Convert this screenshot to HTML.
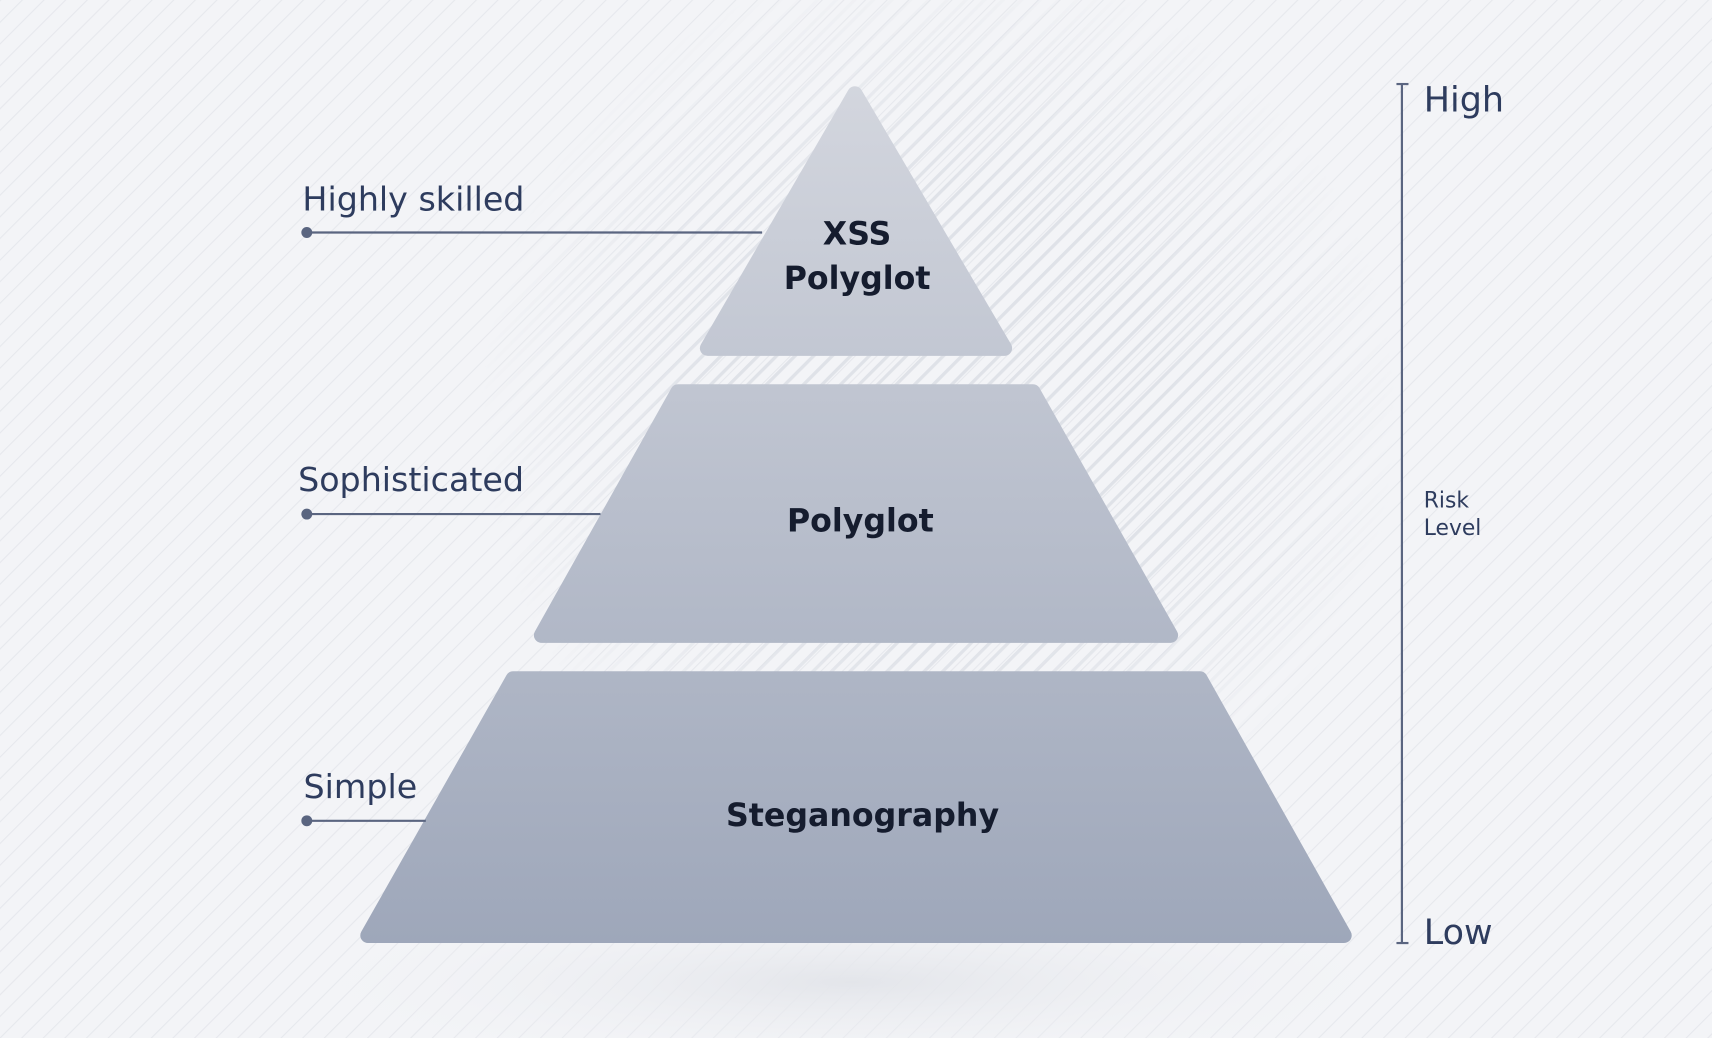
<!DOCTYPE html>
<html><head><meta charset="utf-8"><style>
html,body{margin:0;padding:0;background:#f2f3f6;}
svg{display:block}
</style></head><body>
<svg width="1712" height="1038" viewBox="0 0 1568 951" preserveAspectRatio="none" xmlns="http://www.w3.org/2000/svg">
<defs>
<linearGradient id="g" x1="0" y1="77" x2="0" y2="864" gradientUnits="userSpaceOnUse">
<stop offset="0" stop-color="#d3d6de"/><stop offset="1" stop-color="#9ea7ba"/>
</linearGradient>
<pattern id="st" width="12" height="12" patternUnits="userSpaceOnUse" patternTransform="rotate(45)">
<rect width="12" height="12" fill="none"/><rect x="0" y="0" width="3" height="12" fill="#dfe2e8"/>
</pattern>
<radialGradient id="rm"><stop offset="0.5" stop-color="#fff"/><stop offset="1" stop-color="#000"/></radialGradient>
<mask id="m"><rect width="1568" height="951" fill="#000"/><circle cx="860" cy="380" r="420" fill="url(#rm)"/></mask>
<pattern id="st2" width="14" height="14" patternUnits="userSpaceOnUse" patternTransform="rotate(45)">
<rect x="0" y="0" width="1" height="14" fill="#e6e8ed"/>
</pattern>
<radialGradient id="sh" cx="0.5" cy="0.5" r="0.5"><stop offset="0" stop-color="#e3e5ea"/><stop offset="1" stop-color="#f2f3f6" stop-opacity="0"/></radialGradient>
</defs>
<rect width="1568" height="951" fill="#f3f4f7"/>
<rect width="1568" height="951" fill="url(#st2)"/>
<rect width="1568" height="951" fill="url(#st)" mask="url(#m)"/>
<ellipse cx="780" cy="900" rx="520" ry="80" fill="url(#sh)"/>
<g fill="url(#g)" stroke="url(#g)" stroke-width="14" stroke-linejoin="round">
<polygon points="783,86 648,319 920,319"/>
<polygon points="621,359 946,359 1072,582 496,582"/>
<polygon points="470,622 1099,622 1231,857 337,857"/>
</g>
<g font-family="'DejaVu Sans','Liberation Sans',sans-serif" font-weight="bold" fill="#151c2e" text-anchor="middle" font-size="29">
<text x="785" y="224">XSS</text>
<text x="785" y="265">Polyglot</text>
<text x="788" y="487">Polyglot</text>
<text x="790" y="757">Steganography</text>
</g>
<g stroke="#5a6580" stroke-width="2" fill="#5a6580">
<line x1="281" y1="213" x2="698" y2="213"/><circle cx="281" cy="213" r="5" stroke="none"/>
<line x1="281" y1="471" x2="550" y2="471"/><circle cx="281" cy="471" r="5" stroke="none"/>
<line x1="281" y1="752" x2="390" y2="752"/><circle cx="281" cy="752" r="5" stroke="none"/>
<line x1="1284" y1="77" x2="1284" y2="864"/>
<line x1="1279" y1="77" x2="1290" y2="77"/><line x1="1279" y1="864" x2="1290" y2="864"/>
</g>
<g font-family="'DejaVu Sans','Liberation Sans',sans-serif" fill="#2e3c5e">
<text x="277" y="193" font-size="30.5">Highly skilled</text>
<text x="273" y="450" font-size="30.5">Sophisticated</text>
<text x="278" y="731" font-size="30.5">Simple</text>
<text x="1304" y="102" font-size="32">High</text>
<text x="1304" y="865" font-size="32">Low</text>
<text x="1304" y="465" font-size="20">Risk</text>
<text x="1304" y="490" font-size="20">Level</text>
</g>
</svg>
</body></html>
